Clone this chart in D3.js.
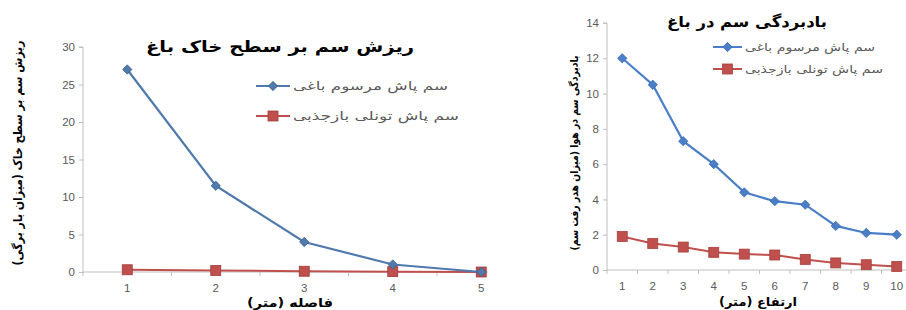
<!DOCTYPE html>
<html>
<head>
<meta charset="utf-8">
<script src="https://cdn.jsdelivr.net/npm/d3@7"></script>
<style>
  body { margin: 0; background: #fff; }
  svg { display: block; }
  .fa { font-family: "DejaVu Sans", sans-serif; }
</style>
</head>
<body>
<svg id="chart" width="906" height="310"></svg>
<script>
// series names
const seriesNames = ["سم پاش مرسوم باغی", "سم پاش تونلی بازجذبی"];

// left chart - soil deposit vs distance
const distCats = ["1", "2", "3", "4", "5"];
const soilConv = [27, 11.5, 4, 1, 0];
const soilTunnel = [0.3, 0.2, 0.1, 0.05, 0];
const soilTicks = [0, 5, 10, 15, 20, 25, 30];

// right chart - drift vs height
const heightCats = ["1", "2", "3", "4", "5", "6", "7", "8", "9", "10"];
const driftConv = [12, 10.5, 7.3, 6, 4.4, 3.9, 3.7, 2.5, 2.1, 2.0];
const driftTunnel = [1.9, 1.5, 1.3, 1.0, 0.9, 0.85, 0.6, 0.4, 0.3, 0.2];
const driftTicks = [0, 2, 4, 6, 8, 10, 12, 14];

const svg = d3.select("#chart");

function drawChart(o) {
  const g = svg.append("g");
  const clipId = "clip" + o.id;
  svg.append("clipPath").attr("id", clipId)
    .append("rect").attr("x", o.left - 40).attr("y", 0)
    .attr("width", o.clipRight - o.left + 40).attr("height", 310);
  g.attr("clip-path", "url(#" + clipId + ")");

  const x = d3.scaleBand().domain(o.cats).range([o.left, o.left + o.band * o.cats.length]);
  const y = d3.scaleLinear().domain([0, o.ticks[o.ticks.length - 1]]).range([o.bottom, o.top]);
  const cx = d => x(d) + x.bandwidth() / 2;

  // y axis
  const ya = g.append("g").attr("transform", `translate(${o.left},0)`)
    .call(d3.axisLeft(y).tickValues(o.ticks).tickSize(4).tickPadding(4));
  ya.select(".domain").attr("stroke", "#bfbfbf").attr("d", `M-4,${o.top}H0V${o.bottom}`);
  ya.selectAll(".tick line").attr("stroke", "#bfbfbf");
  ya.selectAll(".tick text").attr("font-size", 11.5)
    .attr("font-family", "Liberation Sans, Arial, sans-serif").attr("fill", "#595959");

  // x axis: ticks at band edges
  const xa = g.append("g").attr("transform", `translate(0,${o.bottom})`);
  xa.append("line").attr("x1", o.left).attr("x2", o.clipRight)
    .attr("stroke", "#bfbfbf");
  xa.selectAll(".xt").data(o.cats.concat(["end"])).enter().append("line")
    .attr("x1", (d, i) => o.left + i * x.bandwidth())
    .attr("x2", (d, i) => o.left + i * x.bandwidth())
    .attr("y1", 0).attr("y2", 4).attr("stroke", "#bfbfbf");
  xa.selectAll(".xl").data(o.cats).enter().append("text")
    .attr("x", cx).attr("y", o.xLabelY - o.bottom)
    .attr("text-anchor", "middle")
    .attr("font-family", "Liberation Sans, Arial, sans-serif")
    .attr("font-size", 11.5).attr("fill", "#595959")
    .text(d => d);

  const line = d3.line().x((d, i) => cx(o.cats[i])).y(d => y(d));

  // tunnel sprayer (red squares)
  g.append("path").datum(o.tunnel).attr("d", line)
    .attr("fill", "none").attr("stroke", o.red).attr("stroke-width", 2);
  g.selectAll(".sq").data(o.tunnel).enter().append("rect")
    .attr("x", (d, i) => cx(o.cats[i]) - o.sq / 2)
    .attr("y", d => y(d) - o.sq / 2)
    .attr("width", o.sq).attr("height", o.sq)
    .attr("fill", o.red).attr("stroke", o.redEdge).attr("stroke-width", 0.8);

  // conventional sprayer (blue diamonds)
  g.append("path").datum(o.conv).attr("d", line)
    .attr("fill", "none").attr("stroke", o.blue).attr("stroke-width", 2.2);
  const dm = d3.symbol().type(d3.symbolDiamond2).size(o.dm);
  g.selectAll(".dm").data(o.conv).enter().append("path")
    .attr("d", dm)
    .attr("transform", (d, i) => `translate(${cx(o.cats[i])},${y(d)})`)
    .attr("fill", o.blue).attr("stroke", o.blueEdge).attr("stroke-width", 0.8);

  // title
  svg.append("text").attr("class", "fa")
    .attr("x", o.titleX).attr("y", o.titleY)
    .attr("text-anchor", "middle").attr("font-size", o.titleSize)
    .attr("font-weight", "bold").attr("fill", "#000")
    .attr("textLength", o.titleLen).attr("lengthAdjust", "spacingAndGlyphs")
    .text(o.title);

  // axis titles
  svg.append("text").attr("class", "fa")
    .attr("x", o.xTitleX).attr("y", o.xTitleY)
    .attr("text-anchor", "middle").attr("font-size", 12)
    .attr("font-weight", "bold")
    .attr("textLength", o.xTitleLen).attr("lengthAdjust", "spacingAndGlyphs")
    .text(o.xTitle);
  svg.append("text").attr("class", "fa")
    .attr("transform", `translate(${o.yTitleX},${o.yTitleY}) rotate(-90)`)
    .attr("text-anchor", "middle").attr("font-size", o.yTitleSize)
    .attr("font-weight", "bold")
    .attr("textLength", o.yTitleLen).attr("lengthAdjust", "spacingAndGlyphs")
    .text(o.yTitle);

  // legend
  const cols = [[o.blue, o.blueEdge, "d"], [o.red, o.redEdge, "s"]];
  seriesNames.forEach((name, i) => {
    const ly = o.legY[i];
    const lg = svg.append("g");
    lg.append("line").attr("x1", o.legX).attr("x2", o.legX + o.legW)
      .attr("y1", ly).attr("y2", ly)
      .attr("stroke", cols[i][0]).attr("stroke-width", 2);
    const mx = o.legX + o.legW / 2;
    if (cols[i][2] == "d") {
      lg.append("path").attr("d", dm).attr("transform", `translate(${mx},${ly})`)
        .attr("fill", cols[i][0]).attr("stroke", cols[i][1]).attr("stroke-width", 0.8);
    } else {
      lg.append("rect").attr("x", mx - o.sq / 2).attr("y", ly - o.sq / 2)
        .attr("width", o.sq).attr("height", o.sq)
        .attr("fill", cols[i][0]).attr("stroke", cols[i][1]).attr("stroke-width", 0.8);
    }
    lg.append("text").attr("class", "fa")
      .attr("x", o.legX + o.legW + 3).attr("y", ly + 4)
      .attr("direction", "ltr").attr("text-anchor", "start")
      .attr("font-size", o.legSize).attr("fill", "#595959")
      .attr("textLength", o.legLen[i]).attr("lengthAdjust", "spacingAndGlyphs")
      .text(name);
  });
}

drawChart({
  id: "L", cats: distCats, conv: soilConv, tunnel: soilTunnel, ticks: soilTicks,
  left: 83, band: 88.5, clipRight: 488, top: 47, bottom: 272, xLabelY: 292,
  blue: "#5079ad", blueEdge: "#3b5f8a", red: "#c0504d", redEdge: "#a03c3a",
  sq: 10, dm: 55,
  title: "ریزش سم بر سطح خاک باغ", titleX: 280, titleY: 52, titleSize: 16, titleLen: 268,
  xTitle: "فاصله (متر)", xTitleX: 290, xTitleY: 307, xTitleLen: 86,
  yTitle: "ریزش سم بر سطح خاک (میزان بار برگی)", yTitleX: 22, yTitleY: 153, yTitleSize: 12, yTitleLen: 225,
  legX: 256, legW: 34, legY: [86, 116], legSize: 11.5, legLen: [155, 166]
});

drawChart({
  id: "R", cats: heightCats, conv: driftConv, tunnel: driftTunnel, ticks: driftTicks,
  left: 607, band: 30.5, clipRight: 906, top: 23, bottom: 270, xLabelY: 290,
  blue: "#4a7fc8", blueEdge: "#3a6bb0", red: "#c0504d", redEdge: "#a8403d",
  sq: 10, dm: 55,
  title: "بادبردگی سم در باغ", titleX: 747, titleY: 27, titleSize: 15, titleLen: 160,
  xTitle: "ارتفاع (متر)", xTitleX: 758, xTitleY: 306, xTitleLen: 78,
  yTitle: "بادبردگی سم در هوا (میزان هدر رفت سم)", yTitleX: 578, yTitleY: 153, yTitleSize: 11, yTitleLen: 195,
  legX: 713, legW: 29, legY: [47, 69], legSize: 11, legLen: [130, 138]
});
</script>
</body>
</html>
